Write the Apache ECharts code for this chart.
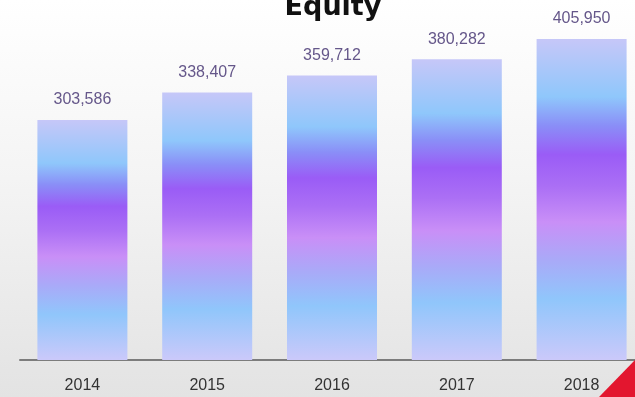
<!DOCTYPE html>
<html>
<head>
<meta charset="utf-8">
<script src="https://cdn.jsdelivr.net/npm/echarts@6/dist/echarts.min.js"></script>
<style>
  html, body { margin: 0; padding: 0; overflow: hidden; }
  #chart { width: 645px; height: 397px; }
</style>
</head>
<body>
<div id="chart"></div>
<script>
// Equity by year
var years = ['2014', '2015', '2016', '2017', '2018'];
var equity = [303586, 338407, 359712, 380282, 405950];

var chart = echarts.init(document.getElementById('chart'));

// Vertical banded fill used by every bar
var barFill = new echarts.graphic.LinearGradient(0, 0, 0, 1, [
  { offset: 0.00, color: '#c6c7f8' },
  { offset: 0.18, color: '#8fc7fb' },
  { offset: 0.27, color: '#8a8ef7' },
  { offset: 0.36, color: '#9a5cf6' },
  { offset: 0.46, color: '#ab6ff5' },
  { offset: 0.57, color: '#c98ff7' },
  { offset: 0.69, color: '#a9aaf8' },
  { offset: 0.81, color: '#90c6fb' },
  { offset: 1.00, color: '#cbc9fa' }
]);

chart.setOption({
  animation: false,
  backgroundColor: new echarts.graphic.LinearGradient(0, 0, 0, 1, [
    { offset: 0, color: '#ffffff' },
    { offset: 0.45, color: '#f4f4f4' },
    { offset: 1, color: '#e3e3e3' }
  ]),
  title: {
    text: 'Equity',
    left: 328,
    top: -11,
    textAlign: 'center',
    textStyle: {
      fontFamily: 'DejaVu Sans',
      fontWeight: 'bold',
      fontSize: 27,
      color: '#111111'
    }
  },
  grid: { left: 20, right: 1, top: 20, bottom: 37 },
  xAxis: {
    type: 'category',
    data: years,
    axisLine: { lineStyle: { color: '#7c7c7c', width: 2 } },
    axisTick: { show: false },
    axisLabel: {
      margin: 18,
      fontFamily: 'Liberation Sans',
      fontSize: 16,
      color: '#333333'
    }
  },
  yAxis: {
    type: 'value',
    min: 0,
    max: 430000,
    show: false,
    splitLine: { show: false }
  },
  series: [{
    type: 'bar',
    data: equity,
    barWidth: 90,
    itemStyle: { color: barFill },
    label: {
      show: true,
      position: 'top',
      distance: 12,
      fontFamily: 'Liberation Sans',
      fontSize: 16,
      color: '#65578a',
      formatter: function (p) {
        return p.value.toLocaleString('en-US');
      }
    }
  }],
  graphic: [{
    type: 'polygon',
    shape: { points: [[599, 397], [635, 360], [635, 397]] },
    style: { fill: '#e3162f' },
    z: 100
  }]
});
</script>
</body>
</html>
